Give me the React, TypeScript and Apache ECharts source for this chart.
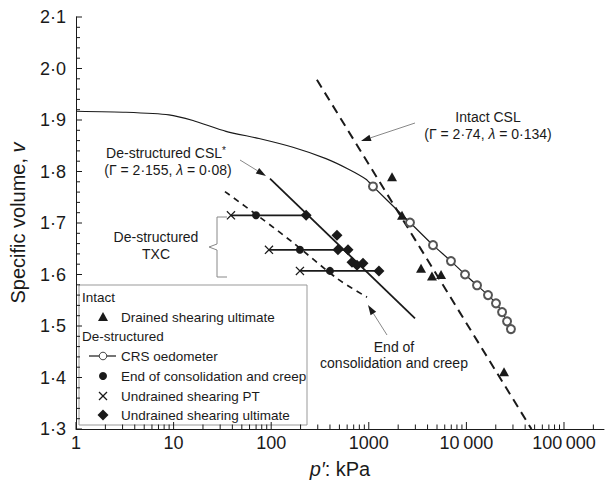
import React, { useEffect, useRef } from "react";
import * as echarts from "echarts";

// ---------- data ----------
// CRS oedometer curve (line part before the measured circles)
const crsCurveP = [1, 3.25, 8.97, 15.8, 34.4, 75, 167, 364, 627, 936];
const crsCurveV = [1.917, 1.915, 1.91, 1.899, 1.878, 1.864, 1.847, 1.825, 1.804, 1.785];
// CRS oedometer measured points (open circles)
const crsPointP = [1104, 2642, 4550, 6950, 9680, 12850, 16650, 20100, 23200, 26100, 28600];
const crsPointV = [1.771, 1.701, 1.657, 1.626, 1.6, 1.579, 1.56, 1.544, 1.527, 1.509, 1.494];

// Intact: drained shearing ultimate (triangles)
const intactP = [1730, 2190, 3430, 4440, 5500, 24300];
const intactV = [1.79, 1.715, 1.612, 1.597, 1.6, 1.411];

// De-structured TXC rows
const rowV = [1.715, 1.648, 1.607];
const ptP = [38.7, 94.9, 197]; // undrained shearing PT (crosses)
const eoccP = [69.9, 197, 400]; // end of consolidation and creep (dots)
const rowEndP = [228, 612, 1271]; // right end of each row

// Undrained shearing ultimate (diamonds)
const ultP = [228, 472, 483, 612, 673, 757, 872, 1271];
const ultV = [1.715, 1.676, 1.648, 1.648, 1.624, 1.618, 1.622, 1.607];

// Critical state lines (end points)
const intactCslP = [294, 46400];
const intactCslV = [1.978, 1.3];
const destrCslP = [97.2, 2974];
const destrCslV = [1.786, 1.515];

// End of consolidation and creep trend (dashed)
const eoccLineP = [33.6, 76.8, 167, 484, 959];
const eoccLineV = [1.761, 1.711, 1.662, 1.591, 1.556];

// Axis
const xMin = 1;
const xMax = 257000;
const yMin = 1.3;
const yMax = 2.1;
const yStep = 0.1;
const yMinorPerMajor = 5;
const xMajorTicks = [1, 10, 100, 1000, 10000, 100000];
const xMinorMult = [2, 3, 4, 5, 6, 7, 8, 9];

const FONT = '"Liberation Sans", Arial, Helvetica, sans-serif';
const INK = "#1a1a1a";

const zip = (a: number[], b: number[]) => a.map((x, i) => [x, b[i]]);

function arrow(x1: number, y1: number, x2: number, y2: number) {
  const dx = x2 - x1;
  const dy = y2 - y1;
  const L = Math.hypot(dx, dy);
  const ux = dx / L;
  const uy = dy / L;
  const hl = 10;
  const hw = 3.3;
  const bx = x2 - ux * hl;
  const by = y2 - uy * hl;
  return [
    { type: "line", shape: { x1, y1, x2: bx, y2: by }, style: { stroke: "#888", lineWidth: 1 } },
    {
      type: "polygon",
      shape: { points: [[x2, y2], [bx - uy * hw, by + ux * hw], [bx + uy * hw, by - ux * hw]] },
      style: { fill: INK },
    },
  ];
}

function txt(text: string, x: number, y: number, size: number, align = "center", rich?: any) {
  return {
    type: "text",
    x,
    y,
    style: {
      text,
      fill: INK,
      fontSize: size,
      fontFamily: FONT,
      align,
      verticalAlign: "middle",
      rich,
    },
  };
}

const italicRich = { i: { fontStyle: "italic", fontSize: 14, fontFamily: FONT, fill: INK } };
const supRich = { s: { fontSize: 10, fontFamily: FONT, fill: INK, verticalAlign: "top", padding: [0, 0, 6, 0] } };
const CROSS = "path://M0,1L1,0L5,4L9,0L10,1L6,5L10,9L9,10L5,6L1,10L0,9L4,5Z";

export default function App() {
  const ref = useRef<HTMLDivElement>(null);

  useEffect(() => {
    document.body.style.margin = "0";
    const chart = echarts.init(ref.current!, null, { renderer: "svg" });

    // x ticks: [value, length]
    const xTickData: number[][] = [];
    xMajorTicks.forEach((d) => {
      xTickData.push([d, 7]);
      xMinorMult.forEach((m) => {
        if (d * m <= xMax) xTickData.push([d * m, 4.5]);
      });
    });

    // y ticks: [value, length]
    const yTickData: number[][] = [];
    const nMajor = Math.round((yMax - yMin) / yStep);
    for (let i = 0; i <= nMajor * yMinorPerMajor; i++) {
      const v = +(yMin + (i * yStep) / yMinorPerMajor).toFixed(3);
      yTickData.push([v, i % yMinorPerMajor === 0 ? 6 : 4]);
    }

    const fmtX = (v: number) => {
      const n = Math.round(v);
      const s = String(n);
      return n >= 10000 ? s.replace(/\B(?=(\d{3})+(?!\d))/g, "\u2009") : s;
    };

    const legendX = 79;
    const legendY = 285;
    const ix = 103;
    const tx = 121;
    const LF = 13.5;

    const graphic: any[] = [
      // legend box
      {
        type: "rect",
        shape: { x: legendX, y: legendY, width: 228, height: 140 },
        style: { fill: "#fff", stroke: "#999", lineWidth: 1 },
      },
      txt("Intact", 82, 297, LF, "left"),
      {
        type: "polygon",
        shape: { points: [[ix, 312], [ix - 5, 321], [ix + 5, 321]] },
        style: { fill: INK },
      },
      txt("Drained shearing ultimate", tx, 317, LF, "left"),
      txt("De-structured", 82, 336, LF, "left"),
      { type: "line", shape: { x1: 89, y1: 356, x2: 116, y2: 356 }, style: { stroke: INK, lineWidth: 1.2 } },
      { type: "circle", shape: { cx: ix, cy: 356, r: 3.8 }, style: { fill: "#fff", stroke: "#444", lineWidth: 1 } },
      txt("CRS oedometer", tx, 356, LF, "left"),
      { type: "circle", shape: { cx: ix, cy: 376, r: 4 }, style: { fill: INK } },
      txt("End of consolidation and creep", tx, 376, LF, "left"),
      { type: "line", shape: { x1: ix - 4, y1: 392, x2: ix + 4, y2: 400 }, style: { stroke: INK, lineWidth: 1.3 } },
      { type: "line", shape: { x1: ix - 4, y1: 400, x2: ix + 4, y2: 392 }, style: { stroke: INK, lineWidth: 1.3 } },
      txt("Undrained shearing PT", tx, 396, LF, "left"),
      {
        type: "polygon",
        shape: { points: [[ix, 409.5], [ix + 5.5, 415], [ix, 420.5], [ix - 5.5, 415]] },
        style: { fill: INK },
      },
      txt("Undrained shearing ultimate", tx, 415, LF, "left"),

      // annotations
      txt("Intact CSL", 488, 117, 14),
      txt("(Γ = 2·74, {i|λ} = 0·134)", 488, 134, 14, "center", italicRich),
      ...arrow(415, 123, 361, 141),

      txt("De-structured CSL{s|*}", 166, 153, 14, "center", supRich),
      txt("(Γ = 2·155, {i|λ} = 0·08)", 168, 170, 14, "center", italicRich),
      ...arrow(240, 160, 266, 176),

      txt("De-structured", 156, 237, 14),
      txt("TXC", 156, 254, 14),
      {
        type: "polyline",
        shape: {
          points: [[227, 217], [217, 217], [217, 244], [209, 247], [217, 250], [217, 277], [227, 277]],
        },
        style: { stroke: "#888", lineWidth: 1, fill: "none" },
      },

      txt("End of", 394, 347, 14),
      txt("consolidation and creep", 394, 363, 14),
      ...arrow(387, 335, 368, 305),
    ];

    const lineSeries = (name: string, data: number[][], style: any, extra: any = {}) => ({
      type: "line",
      name,
      data,
      symbol: "none",
      lineStyle: style,
      silent: true,
      ...extra,
    });

    const crsData: any[] = [
      ...zip(crsCurveP, crsCurveV).map((d) => ({ value: d, symbol: "none" })),
      ...zip(crsPointP, crsPointV).map((d) => ({ value: d })),
    ];

    const scatterStyle = { color: INK, opacity: 1 };

    const option: any = {
      animation: false,
      textStyle: { fontFamily: FONT },
      grid: { left: 76, right: 2, top: 17, bottom: 54, containLabel: false },
      xAxis: {
        type: "log",
        logBase: 10,
        min: xMin,
        max: xMax,
        name: "{i|p′}{n|: kPa}",
        nameLocation: "middle",
        nameGap: 30,
        nameTextStyle: {
          rich: {
            i: { fontSize: 20, fontStyle: "italic", fontFamily: FONT, color: INK },
            n: { fontSize: 20, fontFamily: FONT, color: INK },
          },
        },
        axisLine: { lineStyle: { color: INK, width: 1 } },
        axisTick: { show: false },
        axisLabel: {
          formatter: fmtX,
          fontSize: 18,
          color: INK,
          margin: 5,
          showMaxLabel: false,
          showMinLabel: true,
        },
        splitLine: { show: false },
      },
      yAxis: {
        type: "value",
        min: yMin,
        max: yMax,
        interval: yStep,
        name: "{n|Specific volume, }{i|v}",
        nameLocation: "middle",
        nameGap: 48,
        nameTextStyle: {
          rich: {
            i: { fontSize: 20, fontStyle: "italic", fontFamily: FONT, color: INK },
            n: { fontSize: 20, fontFamily: FONT, color: INK },
          },
        },
        axisLine: { show: true, lineStyle: { color: INK, width: 1 } },
        axisTick: { show: false },
        minorTick: { show: false },
        axisLabel: {
          formatter: (v: number) => v.toFixed(1).replace(".", "·"),
          fontSize: 18,
          color: INK,
          margin: 10,
        },
        splitLine: { show: false },
      },
      graphic,
      series: [
        {
          type: "custom",
          name: "x ticks",
          data: xTickData,
          silent: true,
          clip: false,
          renderItem: (_p: any, api: any) => {
            const pt = api.coord([api.value(0), yMin]);
            const len = api.value(1);
            return {
              type: "line",
              shape: { x1: pt[0], y1: pt[1], x2: pt[0], y2: pt[1] - len },
              style: { stroke: INK, lineWidth: 1 },
            };
          },
        },
        {
          type: "custom",
          name: "y ticks",
          data: yTickData,
          silent: true,
          clip: false,
          encode: { y: 0 },
          renderItem: (_p: any, api: any) => {
            const pt = api.coord([xMin, api.value(0)]);
            const len = api.value(1);
            return {
              type: "line",
              shape: { x1: pt[0], y1: pt[1], x2: pt[0] + len, y2: pt[1] },
              style: { stroke: INK, lineWidth: 1 },
            };
          },
        },
        {
          type: "line",
          name: "CRS oedometer",
          data: crsData,
          smooth: 0.2,
          symbol: "emptyCircle",
          symbolSize: 8,
          showAllSymbol: true,
          lineStyle: { color: INK, width: 1.2 },
          itemStyle: { color: "#555", borderWidth: 1, opacity: 1 },
          silent: true,
          z: 3,
        },
        lineSeries("Intact CSL", zip(intactCslP, intactCslV), { color: INK, width: 2, type: [9, 6] }),
        lineSeries("De-structured CSL", zip(destrCslP, destrCslV), { color: INK, width: 1.8 }),
        lineSeries(
          "End of consolidation and creep line",
          zip(eoccLineP, eoccLineV),
          { color: INK, width: 1.7, type: [6, 5] },
          { smooth: 0.3 }
        ),
        ...rowV.map((v, i) =>
          lineSeries(`TXC row ${i + 1}`, [[ptP[i], v], [rowEndP[i], v]], { color: INK, width: 1.8 })
        ),
        {
          type: "scatter",
          name: "Drained shearing ultimate",
          data: zip(intactP, intactV),
          symbol: "triangle",
          symbolSize: [10, 9],
          itemStyle: scatterStyle,
          silent: true,
          z: 4,
        },
        {
          type: "scatter",
          name: "End of consolidation and creep",
          data: zip(eoccP, rowV),
          symbol: "circle",
          symbolSize: 8,
          itemStyle: scatterStyle,
          silent: true,
          z: 4,
        },
        {
          type: "scatter",
          name: "Undrained shearing PT",
          data: zip(ptP, rowV),
          symbol: CROSS,
          symbolSize: 9,
          itemStyle: scatterStyle,
          silent: true,
          z: 4,
        },
        {
          type: "scatter",
          name: "Undrained shearing ultimate",
          data: zip(ultP, ultV),
          symbol: "diamond",
          symbolSize: 11,
          itemStyle: scatterStyle,
          silent: true,
          z: 4,
        },
      ],
    };

    chart.setOption(option);
    return () => chart.dispose();
  }, []);

  return (
    <div
      ref={ref}
      style={{ position: "fixed", left: 0, top: 0, width: 606, height: 484, background: "#fff" }}
    />
  );
}
